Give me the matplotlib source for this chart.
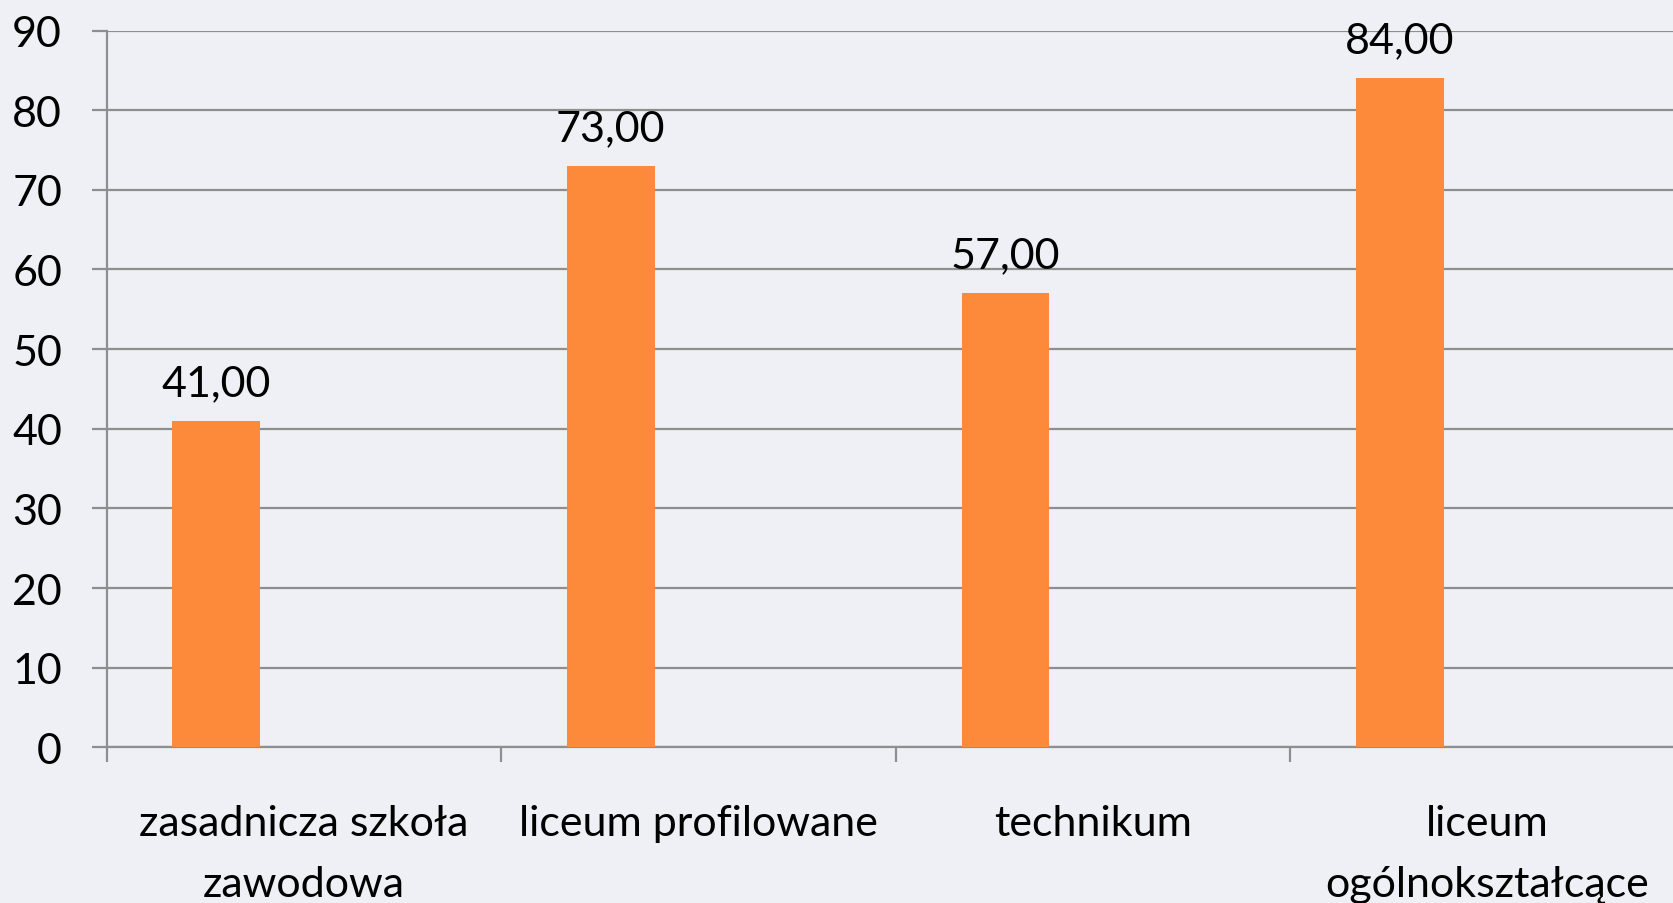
import matplotlib
matplotlib.use("Agg")
import matplotlib.pyplot as plt
import numpy as np

categories = ["zasadnicza szkoła\nzawodowa", "liceum profilowane", "technikum", "liceum\nogólnokształcące"]
values = [41.0, 73.0, 57.0, 84.0]
yticks = [0, 10, 20, 30, 40, 50, 60, 70, 80, 90]

BG = "#EFF0F5"
BAR = "#FD8A3A"
GRID = "#8E8E8E"
FONT = "Lato"
FS = 31

W, H = 1673, 904
fig = plt.figure(figsize=(W / 100, H / 100), dpi=100, facecolor=BG)
left = 106.5 / W
bottom = (H - 748.3) / H
top = (H - 31.5) / H
right_px = 106.5 + 4 * 394.6
ax = fig.add_axes([left, bottom, (right_px - 106.5) / W, top - bottom], facecolor=BG)

x = np.arange(len(categories))
offset = -0.222
width = 0.222
ax.bar(x + offset, values, width=width, color=BAR, zorder=3)

for xi, v in zip(x, values):
    ax.annotate(f"{v:.2f}".replace(".", ","), (xi + offset, v), xytext=(0, 13.5),
                textcoords="offset points", ha="center", va="bottom",
                fontsize=FS, family=FONT, color="black", zorder=4)

ax.set_xlim(-0.5, len(categories) - 0.5)
ax.set_ylim(0, 90)
ax.set_yticks(yticks)
ax.set_yticklabels([str(t) for t in yticks], fontsize=FS, family=FONT)
ax.yaxis.grid(True, color=GRID, linewidth=1.6, zorder=0)
ax.tick_params(axis="y", length=11, width=1.6, color=GRID, pad=21)

ax.set_xticks(x)
ax.set_xticklabels(categories, fontsize=FS, family=FONT, linespacing=1.72)
ax.tick_params(axis="x", which="major", length=0, pad=41)
ax.set_xticks(np.arange(-0.5, len(categories) - 0.5, 1.0), minor=True)
ax.tick_params(axis="x", which="minor", length=11, width=1.6, color=GRID)

for s in ["top", "right"]:
    ax.spines[s].set_visible(False)
for s in ["left", "bottom"]:
    ax.spines[s].set_color(GRID)
    ax.spines[s].set_linewidth(1.6)
    ax.spines[s].set_zorder(2)

fig.savefig("out.png", dpi=100, facecolor=BG)
